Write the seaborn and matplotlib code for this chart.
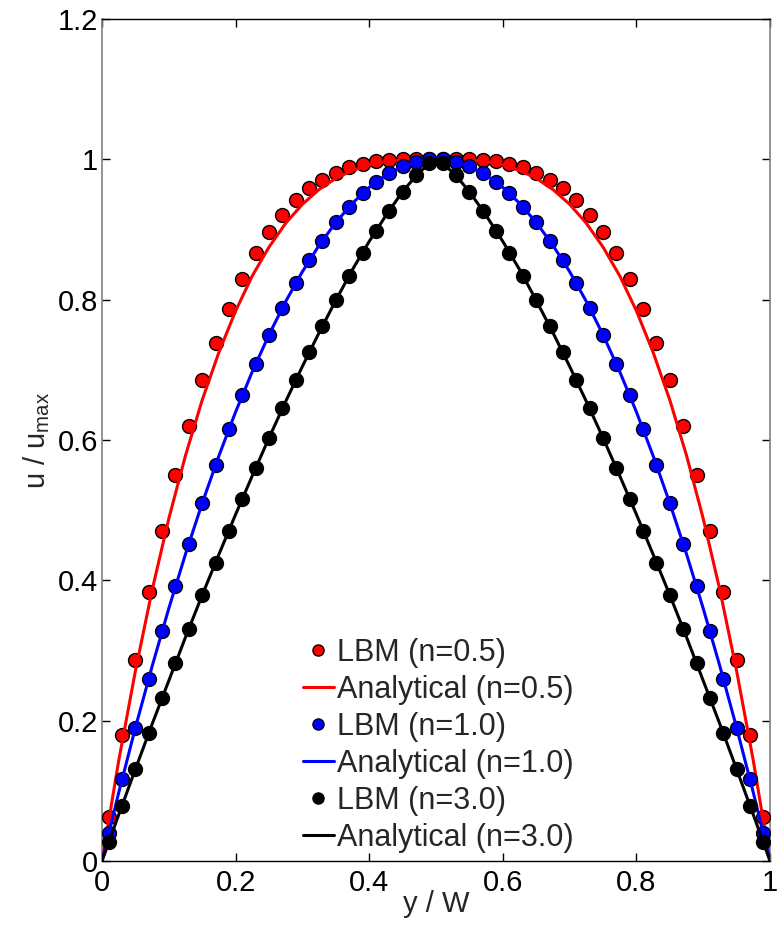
import matplotlib
matplotlib.use('Agg')
import matplotlib.pyplot as plt
import seaborn as sns

# LBM sample positions (y / W)
y_lbm = [0.01, 0.03, 0.05, 0.07, 0.09, 0.11, 0.13, 0.15, 0.17, 0.19,
         0.21, 0.23, 0.25, 0.27, 0.29, 0.31, 0.33, 0.35, 0.37, 0.39,
         0.41, 0.43, 0.45, 0.47, 0.49, 0.51, 0.53, 0.55, 0.57, 0.59,
         0.61, 0.63, 0.65, 0.67, 0.69, 0.71, 0.73, 0.75, 0.77, 0.79,
         0.81, 0.83, 0.85, 0.87, 0.89, 0.91, 0.93, 0.95, 0.97, 0.99]

u_lbm_05 = [0.062, 0.18, 0.286, 0.384, 0.47, 0.55, 0.62, 0.685, 0.738, 0.787,
            0.83, 0.866, 0.896, 0.921, 0.942, 0.959, 0.971, 0.981, 0.989, 0.994,
            0.997, 0.999, 1.0, 1.0, 1.0, 1.0, 1.0, 1.0, 0.999, 0.997,
            0.994, 0.989, 0.981, 0.971, 0.959, 0.942, 0.921, 0.896, 0.866, 0.83,
            0.787, 0.738, 0.685, 0.62, 0.55, 0.47, 0.384, 0.286, 0.18, 0.062]

u_lbm_10 = [0.04, 0.117, 0.19, 0.26, 0.328, 0.392, 0.452, 0.51, 0.564, 0.616,
            0.664, 0.708, 0.75, 0.788, 0.824, 0.856, 0.884, 0.91, 0.932, 0.952,
            0.968, 0.98, 0.99, 0.996, 1.0, 1.0, 0.996, 0.99, 0.98, 0.968,
            0.952, 0.932, 0.91, 0.884, 0.856, 0.824, 0.788, 0.75, 0.708, 0.664,
            0.616, 0.564, 0.51, 0.452, 0.392, 0.328, 0.26, 0.19, 0.117, 0.04]

u_lbm_30 = [0.027, 0.079, 0.131, 0.182, 0.233, 0.282, 0.331, 0.379, 0.425, 0.471,
            0.516, 0.56, 0.603, 0.645, 0.686, 0.725, 0.763, 0.799, 0.834, 0.867,
            0.898, 0.927, 0.954, 0.977, 0.995, 0.995, 0.977, 0.954, 0.927, 0.898,
            0.867, 0.834, 0.799, 0.763, 0.725, 0.686, 0.645, 0.603, 0.56, 0.516,
            0.471, 0.425, 0.379, 0.331, 0.282, 0.233, 0.182, 0.131, 0.079, 0.027]

# analytical curves
y_an = [0.0, 0.025, 0.05, 0.075, 0.1, 0.125, 0.15, 0.175, 0.2, 0.225,
        0.25, 0.275, 0.3, 0.325, 0.35, 0.375, 0.4, 0.425, 0.45, 0.475,
        0.5, 0.525, 0.55, 0.575, 0.6, 0.625, 0.65, 0.675, 0.7, 0.725,
        0.75, 0.775, 0.8, 0.825, 0.85, 0.875, 0.9, 0.925, 0.95, 0.975, 1.0]

u_an_05 = [0.0, 0.143, 0.271, 0.386, 0.488, 0.578, 0.657, 0.725, 0.784, 0.834,
           0.875, 0.909, 0.936, 0.957, 0.973, 0.984, 0.992, 0.997, 0.999, 1.0,
           1.0, 1.0, 0.999, 0.997, 0.992, 0.984, 0.973, 0.957, 0.936, 0.909,
           0.875, 0.834, 0.784, 0.725, 0.657, 0.578, 0.488, 0.386, 0.271, 0.143, 0.0]

u_an_10 = [0.0, 0.0975, 0.19, 0.2775, 0.36, 0.4375, 0.51, 0.5775, 0.64, 0.6975,
           0.75, 0.7975, 0.84, 0.8775, 0.91, 0.9375, 0.96, 0.9775, 0.99, 0.9975,
           1.0, 0.9975, 0.99, 0.9775, 0.96, 0.9375, 0.91, 0.8775, 0.84, 0.7975,
           0.75, 0.6975, 0.64, 0.5775, 0.51, 0.4375, 0.36, 0.2775, 0.19, 0.0975, 0.0]

u_an_30 = [0.0, 0.066, 0.131, 0.195, 0.257, 0.319, 0.379, 0.437, 0.494, 0.549,
           0.603, 0.655, 0.705, 0.753, 0.799, 0.843, 0.883, 0.920, 0.954, 0.982,
           1.0, 0.982, 0.954, 0.920, 0.883, 0.843, 0.799, 0.753, 0.705, 0.655,
           0.603, 0.549, 0.494, 0.437, 0.379, 0.319, 0.257, 0.195, 0.131, 0.066, 0.0]

series = [
    ('0.5', u_lbm_05, u_an_05, '#ff0000'),
    ('1.0', u_lbm_10, u_an_10, '#0000ff'),
    ('3.0', u_lbm_30, u_an_30, '#000000'),
]

sns.set_style('ticks')
plt.rcParams['font.family'] = ['Liberation Sans', 'DejaVu Sans']
plt.rcParams['mathtext.fontset'] = 'custom'
plt.rcParams['mathtext.rm'] = 'Liberation Sans'
plt.rcParams['mathtext.it'] = 'Liberation Sans'

fig = plt.figure(figsize=(7.77, 9.26), dpi=100)
ax = fig.add_axes([0.1313, 0.0702, 0.8597, 0.9093])

z = 3
for n, u_pts, u_line, col in series:
    sns.scatterplot(x=y_lbm, y=u_pts, ax=ax, color=col, edgecolor='black',
                    s=100, linewidth=1.0, zorder=z, label=f'LBM (n={n})')
    sns.lineplot(x=y_an, y=u_line, ax=ax, color=col, linewidth=2.2,
                 zorder=z + 1, label=f'Analytical (n={n})', sort=False)
    z += 2

ax.set_xlim(0, 1)
ax.set_ylim(0, 1.2)
ax.set_xticks([0, 0.2, 0.4, 0.6, 0.8, 1.0])
ax.set_xticklabels(['0', '0.2', '0.4', '0.6', '0.8', '1'])
ax.set_yticks([0, 0.2, 0.4, 0.6, 0.8, 1.0, 1.2])
ax.set_yticklabels(['0', '0.2', '0.4', '0.6', '0.8', '1', '1.2'])
ax.tick_params(direction='in', top=True, right=True, length=6, width=1,
               labelsize=21, colors='black')
ax.tick_params(axis='x', pad=6)
ax.tick_params(axis='y', pad=3)
for side in ['top', 'bottom']:
    ax.spines[side].set_color('black')
    ax.spines[side].set_linewidth(1)
for side in ['left', 'right']:
    ax.spines[side].set_color('#808080')
    ax.spines[side].set_linewidth(1.2)

ax.set_xlabel('y / W', fontsize=21, labelpad=-5)
ax.set_ylabel('u / u$_{\\mathregular{max}}$', fontsize=21, labelpad=4)

handles, labels = ax.get_legend_handles_labels()
ax.legend(handles, labels, loc='upper left', bbox_to_anchor=(0.301, 0.265),
          frameon=False, fontsize=22, borderpad=0, borderaxespad=0,
          handlelength=1.0, handletextpad=0.12, labelspacing=0.23,
          scatterpoints=1, scatteryoffsets=[0.5], markerscale=0.8)

fig.savefig('out.png', dpi=100)
